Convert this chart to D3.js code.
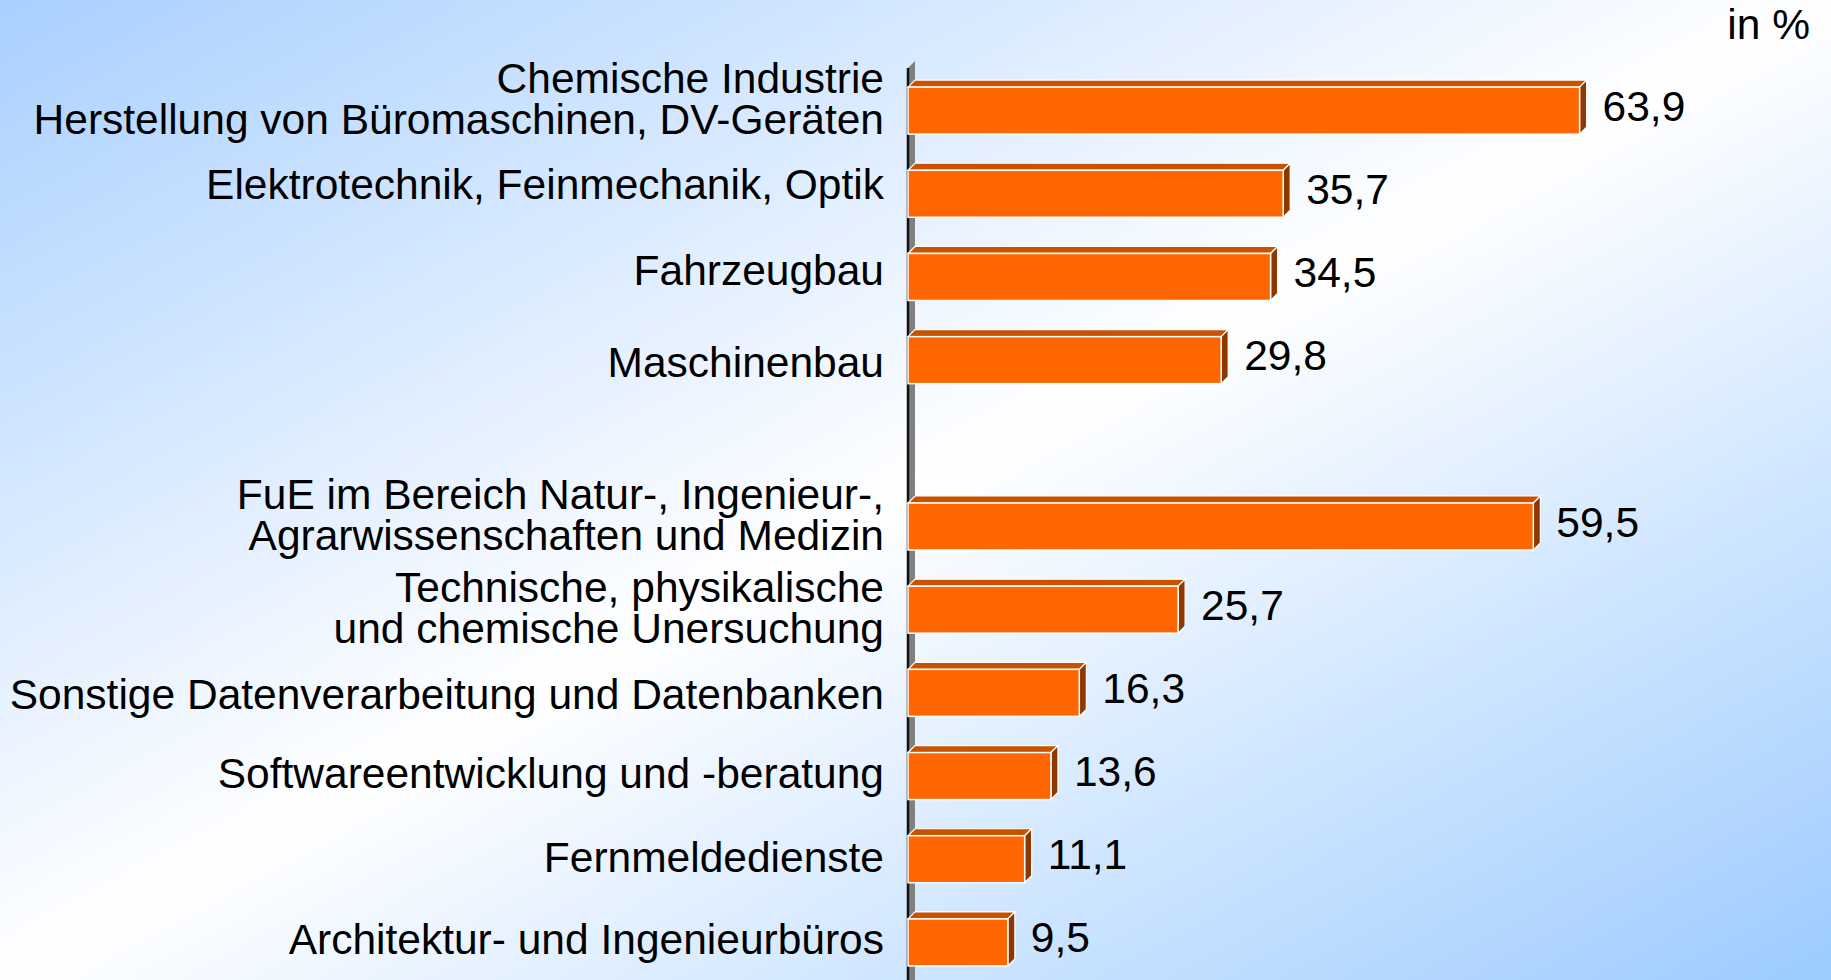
<!DOCTYPE html>
<html>
<head>
<meta charset="utf-8">
<script src="https://cdn.jsdelivr.net/npm/d3@7"></script>
<style>
  html, body { margin: 0; padding: 0; overflow: hidden; }
  svg { display: block; font-family: "Liberation Sans", Arial, sans-serif; }
</style>
</head>
<body>
<svg id="chart" width="1831" height="980"></svg>
<script>
// categories (label lines), "" = empty slot between the two groups
const categories = [
  ["Chemische Industrie", "Herstellung von Büromaschinen, DV-Geräten"],
  ["Elektrotechnik, Feinmechanik, Optik"],
  ["Fahrzeugbau"],
  ["Maschinenbau"],
  [""],
  ["FuE im Bereich Natur-, Ingenieur-,", "Agrarwissenschaften und Medizin"],
  ["Technische, physikalische", "und chemische Unersuchung"],
  ["Sonstige Datenverarbeitung und Datenbanken"],
  ["Softwareentwicklung und -beratung"],
  ["Fernmeldedienste"],
  ["Architektur- und Ingenieurbüros"]
];
const values = [63.9, 35.7, 34.5, 29.8, null, 59.5, 25.7, 16.3, 13.6, 11.1, 9.5];
const unitLabel = "in %";

// layout: baseline shift of each category label against its bar centre (px)
const labelShift = [2.5, 5, 8, 17, 0, 2.5, 12.5, 16, 12, 12.5, 11.5];

const width = 1831, height = 980;
const depth = 7;
const fontSize = 42.5;
const lineGap = 41;

const svg = d3.select("#chart");

// background: blue corners top-left / bottom-right, white across the middle
const defs = svg.append("defs");
const grad = defs.append("linearGradient")
  .attr("id", "bg")
  .attr("x1", 0).attr("y1", 0).attr("x2", 1).attr("y2", 1);
grad.append("stop").attr("offset", "0%").attr("stop-color", "#a9d0ff");
grad.append("stop").attr("offset", "50%").attr("stop-color", "#ffffff");
grad.append("stop").attr("offset", "100%").attr("stop-color", "#9ccbff");
svg.append("rect").attr("width", width).attr("height", height).attr("fill", "url(#bg)");

const keys = categories.map(function(d, i) { return i; });

const xScale = d3.scaleLinear().domain([0, 70]).range([908, 908 + 70 * 10.51]);
const yScale = d3.scaleBand().domain(keys).range([69, 984])
  .paddingInner(0.435).paddingOuter(0.2175);

const x0 = xScale(0);

// wall (grey depth strip) and axis line
svg.append("path")
  .attr("d", "M" + [[x0, 68], [x0 + depth, 68 - depth], [x0 + depth, height], [x0, height]].join("L") + "Z")
  .attr("fill", "#808080");
svg.append("line")
  .attr("x1", x0).attr("x2", x0)
  .attr("y1", 68).attr("y2", height)
  .attr("stroke", "#111")
  .attr("stroke-width", 2.5);

const rows = keys.map(function(i) { return { i: i, lines: categories[i], value: values[i] }; });
const bars = rows.filter(function(d) { return d.value != null; });

const g = svg.append("g")
  .selectAll("g")
  .data(bars)
  .enter()
  .append("g");

// top face
g.append("path")
  .attr("d", function(d) {
    const y = yScale(d.i), x1 = xScale(d.value);
    return "M" + [[x0, y], [x0 + depth, y - depth], [x1 + depth, y - depth], [x1, y]].join("L") + "Z";
  })
  .attr("fill", "#c85200")
  .attr("stroke", "#fff")
  .attr("stroke-width", 1.2);

// side face
g.append("path")
  .attr("d", function(d) {
    const y = yScale(d.i), x1 = xScale(d.value), h = yScale.bandwidth();
    return "M" + [[x1, y], [x1 + depth, y - depth], [x1 + depth, y + h - depth], [x1, y + h]].join("L") + "Z";
  })
  .attr("fill", "#8c3800")
  .attr("stroke", "#fff")
  .attr("stroke-width", 1.2);

// front face
g.append("rect")
  .attr("x", x0)
  .attr("y", function(d) { return yScale(d.i); })
  .attr("width", function(d) { return xScale(d.value) - x0; })
  .attr("height", yScale.bandwidth())
  .attr("fill", "#ff6600")
  .attr("stroke", "#fff")
  .attr("stroke-width", 1.5);

// value labels
g.append("text")
  .attr("x", function(d) { return xScale(d.value) + 23; })
  .attr("y", function(d) { return yScale(d.i) + yScale.bandwidth() / 2 + 10; })
  .attr("font-size", fontSize)
  .attr("fill", "#000")
  .text(function(d) { return d3.format(".1f")(d.value).replace(".", ","); });

// category labels
svg.append("g")
  .selectAll("text")
  .data(bars)
  .enter()
  .append("text")
  .attr("text-anchor", "end")
  .attr("font-size", fontSize)
  .attr("fill", "#000")
  .each(function(d) {
    const base = yScale(d.i) + yScale.bandwidth() / 2 + labelShift[d.i];
    const n = d.lines.length;
    d3.select(this).selectAll("tspan")
      .data(d.lines)
      .enter()
      .append("tspan")
      .attr("x", 884)
      .attr("y", function(l, k) { return base + (k - (n - 1) / 2) * lineGap; })
      .text(function(l) { return l; });
  });

svg.append("text")
  .attr("x", 1810)
  .attr("y", 39)
  .attr("text-anchor", "end")
  .attr("font-size", fontSize)
  .attr("fill", "#000")
  .text(unitLabel);
</script>
</body>
</html>
